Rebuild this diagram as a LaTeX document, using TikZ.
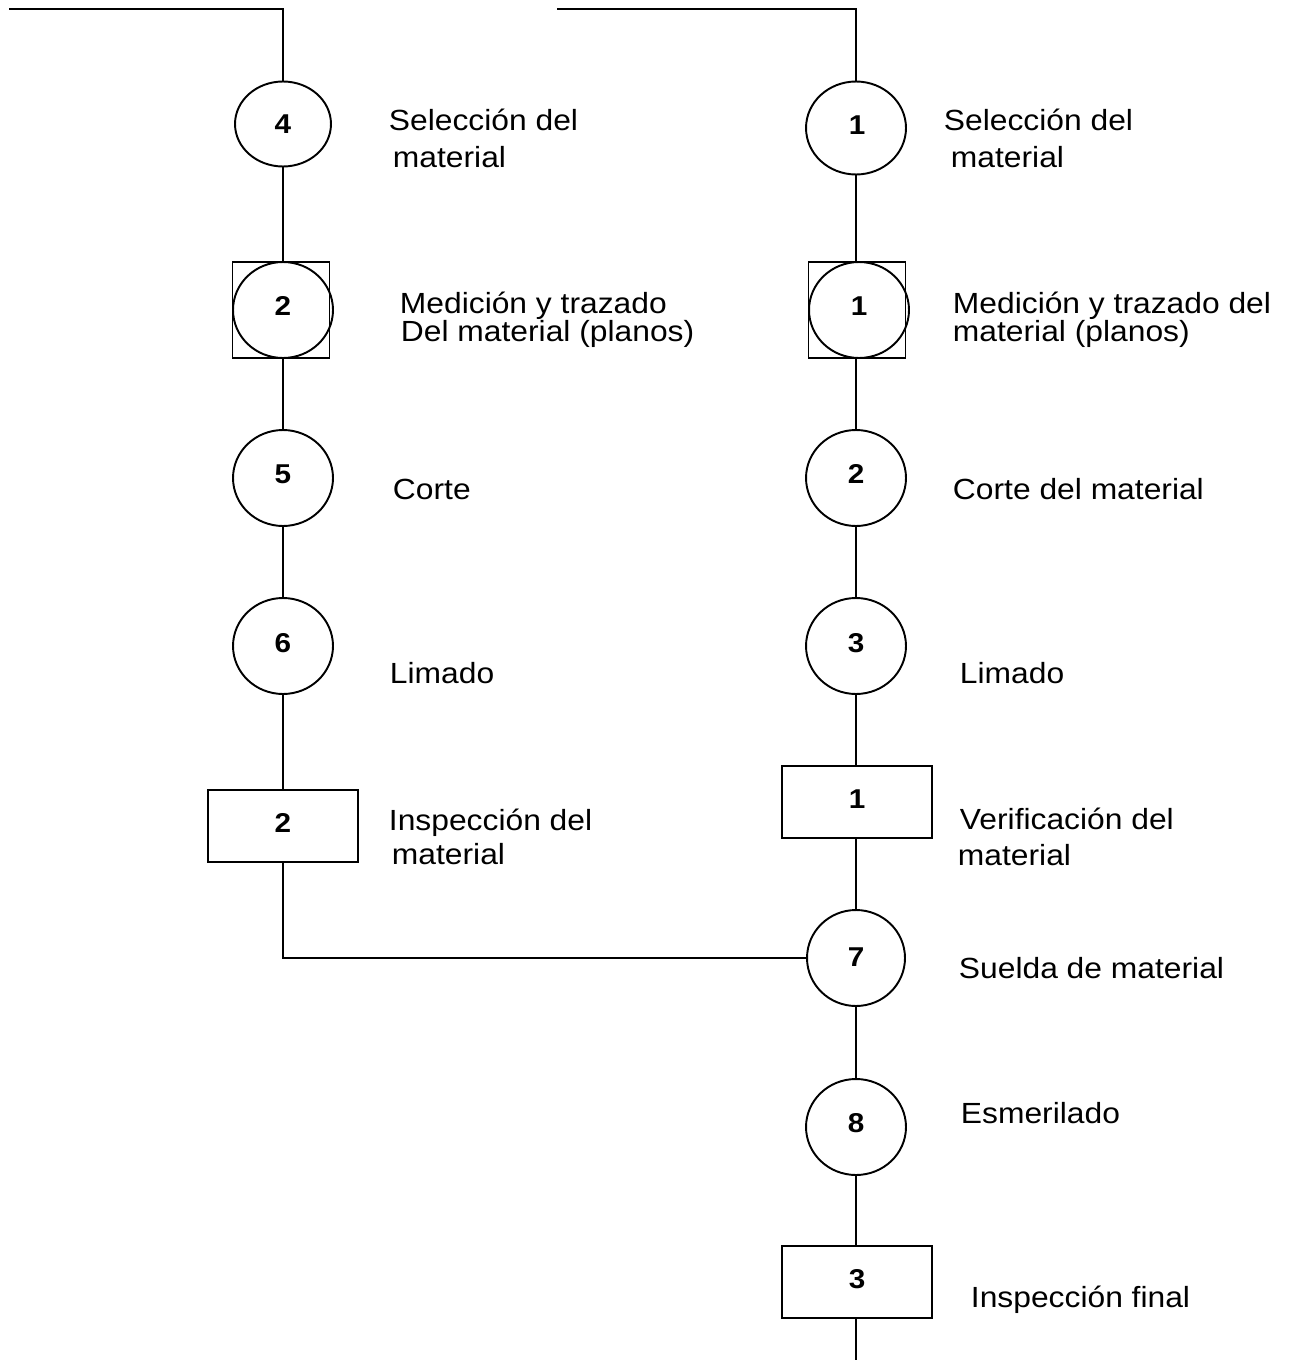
\documentclass[tikz,border=0pt]{standalone}
\usepackage{fontspec}
\setmainfont{Liberation Sans}[FakeStretch=1.09]
\usetikzlibrary{shapes.geometric}
\begin{document}
\begin{tikzpicture}[x=0.02cm, y=-0.02cm, line width=1.1pt,
  op/.style={draw, ellipse, inner sep=0pt, minimum width=2cm, minimum height=1.92cm},
  insp/.style={draw, rectangle, inner sep=0pt, minimum width=3cm, minimum height=1.44cm},
  combo/.style={draw, rectangle, inner sep=0pt, minimum width=1.94cm, minimum height=1.92cm},
  num/.style={anchor=base, inner sep=0pt, font=\fontsize{15.5}{18}\selectfont\bfseries},
  lbl/.style={anchor=base west, inner sep=0pt, font=\fontsize{16.6}{20}\selectfont}]
\useasboundingbox (0,0) rectangle (1291,1362);

% ---------- left branch ----------
\node[op, minimum width=1.92cm, minimum height=1.7cm] (L4) at (283,124) {};
\node[combo] (LmedS) at (281,310) {};
\node[op] (LmedC) at (283,310) {};
\node[op] (L5) at (283,478) {};
\node[op] (L6) at (283,646) {};
\node[insp] (Lbox) at (283,826) {};

% ---------- right branch ----------
\node[op, minimum height=1.86cm] (R1) at (856,128) {};
\node[combo] (RmedS) at (857,310) {};
\node[op] (RmedC) at (859,310) {};
\node[op] (R2) at (856,478) {};
\node[op] (R3) at (856,646) {};
\node[insp] (Rbox1) at (857,802) {};
\node[op, minimum width=1.96cm] (R7) at (856,958) {};
\node[op] (R8) at (856,1127) {};
\node[insp] (Rbox3) at (857,1282) {};

% ---------- numbers ----------
\node[num] (nL4) at (283,133) {4};
\node[num] (nLmed) at (283,315) {2};
\node[num] (nL5) at (283,483) {5};
\node[num] (nL6) at (283,652) {6};
\node[num] (nLbox) at (283,832) {2};
\node[num] (nR1) at (857,134) {1};
\node[num] (nRmed) at (859,315) {1};
\node[num] (nR2) at (856,483) {2};
\node[num] (nR3) at (856,652) {3};
\node[num] (nRbox1) at (857,808) {1};
\node[num] (nR7) at (856,966) {7};
\node[num] (nR8) at (856,1132) {8};
\node[num] (nRbox3) at (857,1288) {3};

% ---------- labels ----------
\node[lbl] (tL4a) at (388,131) {Selección del};
\node[lbl] (tL4b) at (392,167) {material};
\node[lbl] (tLmeda) at (399,313) {Medición y trazado};
\node[lbl] (tLmedb) at (400,341) {Del material (planos)};
\node[lbl] (tL5) at (392,499) {Corte};
\node[lbl] (tL6) at (389,683) {Limado};
\node[lbl] (tLboxa) at (388,830) {Inspección del};
\node[lbl] (tLboxb) at (391,864) {material};

\node[lbl] (tR1a) at (943,131) {Selección del};
\node[lbl] (tR1b) at (950,167) {material};
\node[lbl] (tRmeda) at (952,313) {Medición y trazado del};
\node[lbl] (tRmedb) at (952,341) {material (planos)};
\node[lbl] (tR2) at (952,499) {Corte del material};
\node[lbl] (tR3) at (959,683) {Limado};
\node[lbl] (tRbox1a) at (959,829) {Verificación del};
\node[lbl] (tRbox1b) at (957,865) {material};
\node[lbl] (tR7) at (958,978) {Suelda de material};
\node[lbl] (tR8) at (960,1123) {Esmerilado};
\node[lbl] (tRbox3) at (970,1307) {Inspección final};

% ---------- connectors ----------
\coordinate (Ltop) at (9,9);
\coordinate (Rtop) at (557,9);
\coordinate (Rend) at (856,1360);

\draw (Ltop) -| (L4.north);
\draw (L4.south) -- (L4.south |- LmedC.north);
\draw (LmedC.south) -- (L5.north);
\draw (L5.south) -- (L6.north);
\draw (L6.south) -- (Lbox.north);
\draw (Lbox.south) |- (R7.west);

\draw (Rtop) -| (R1.north);
\draw (R1.south) -- (R1.south |- RmedC.north);
\draw (R1.south |- RmedC.south) -- (R2.north);
\draw (R2.south) -- (R3.north);
\draw (R3.south) -- (R3.south |- Rbox1.north);
\draw (R7.north |- Rbox1.south) -- (R7.north);
\draw (R7.south) -- (R8.north);
\draw (R8.south) -- (R8.south |- Rbox3.north);
\draw (R8.south |- Rbox3.south) -- (Rend);
\end{tikzpicture}
\end{document}
